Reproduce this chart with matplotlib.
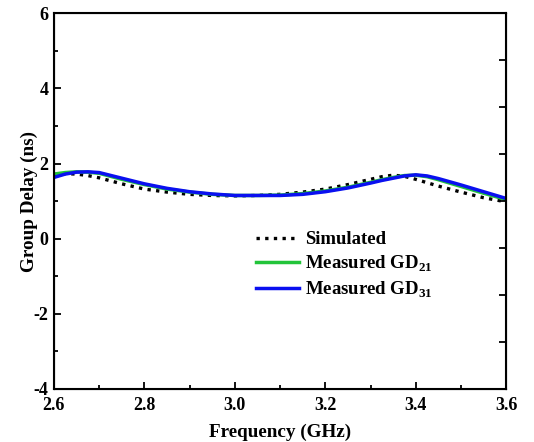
import numpy as np
import matplotlib.pyplot as plt

plt.rcParams['font.family'] = ['Liberation Serif', 'DejaVu Serif']
plt.rcParams['font.weight'] = 'bold'
plt.rcParams['axes.unicode_minus'] = False
plt.rcParams['mathtext.fontset'] = 'custom'
plt.rcParams['mathtext.rm'] = 'Liberation Serif:bold'
plt.rcParams['mathtext.bf'] = 'Liberation Serif:bold'

# frequency points (GHz)
freq = [2.600, 2.625, 2.650, 2.675, 2.700, 2.750, 2.800, 2.850, 2.900, 2.950, 3.000,
        3.050, 3.100, 3.150, 3.200, 3.250, 3.300, 3.325, 3.350, 3.375, 3.400,
        3.425, 3.450, 3.500, 3.550, 3.600]

# group delay (ns)
simulated = [1.70, 1.73, 1.72, 1.68, 1.62, 1.46, 1.32, 1.24, 1.18, 1.15, 1.14,
             1.15, 1.18, 1.24, 1.32, 1.44, 1.58, 1.65, 1.69, 1.66, 1.58,
             1.49, 1.40, 1.24, 1.09, 0.98]
gd21 = [1.72, 1.76, 1.78, 1.77, 1.74, 1.58, 1.44, 1.32, 1.24, 1.18, 1.15,
        1.15, 1.16, 1.20, 1.27, 1.37, 1.50, 1.57, 1.63, 1.68, 1.69,
        1.65, 1.57, 1.39, 1.21, 1.04]
gd31 = [1.63, 1.72, 1.77, 1.78, 1.76, 1.61, 1.46, 1.34, 1.25, 1.19, 1.15,
        1.15, 1.15, 1.18, 1.25, 1.35, 1.48, 1.55, 1.61, 1.67, 1.70,
        1.67, 1.60, 1.43, 1.25, 1.07]

xticks = [2.6, 2.8, 3.0, 3.2, 3.4, 3.6]
yticks = [-4, -2, 0, 2, 4, 6]

fig = plt.figure(figsize=(5.34, 4.42), dpi=100)
ax = fig.add_axes([0.101, 0.120, 0.847, 0.850])

ax.plot(freq, simulated, color='black', linestyle=(0, (1, 1.6)), linewidth=2.4,
        label='Simulated')
ax.plot(freq, gd21, color='#22c43a', linewidth=2.5, label=r'Measured GD$_{\mathbf{21}}$')
ax.plot(freq, gd31, color='#0a10f0', linewidth=2.5, label=r'Measured GD$_{\mathbf{31}}$')

ax.set_xlim(2.6, 3.6)
ax.set_ylim(-4, 6)
ax.set_xticks(xticks)
ax.set_xticklabels(['%.1f' % v for v in xticks], fontweight='bold')
ax.set_yticks(yticks)
ax.set_yticklabels([str(v) for v in yticks], fontweight='bold')
ax.set_xticks(np.arange(2.7, 3.6, 0.2), minor=True)
ax.set_yticks([-3, -1, 1, 3, 5], minor=True)
ax.tick_params(which='both', direction='in', labelsize=13, width=1.3)
ax.tick_params(axis='x', pad=6)
ax.tick_params(axis='y', pad=4)
ax.tick_params(which='major', length=5)
ax.tick_params(which='minor', length=3)
for s in ax.spines.values():
    s.set_linewidth(1.5)

# right axis has its own tick spacing
twin = ax.twinx()
twin.set_ylim(-4, 6)
twin.set_yticks(np.arange(-4, 6.01, 1.25))
twin.tick_params(direction='in', length=5, width=1.3, labelright=False)

ax.set_xlabel('Frequency (GHz)', fontsize=13.8, fontweight='bold', labelpad=7)
ax.set_ylabel('Group Delay (ns)', fontsize=13.8, fontweight='bold', labelpad=-3)

ax.legend(loc='upper left', bbox_to_anchor=(0.431, 0.44), frameon=False,
          fontsize=13.5, handlelength=2.3, handletextpad=0.3, labelspacing=0.3,
          borderaxespad=0)

fig.savefig('out.png', dpi=100)
